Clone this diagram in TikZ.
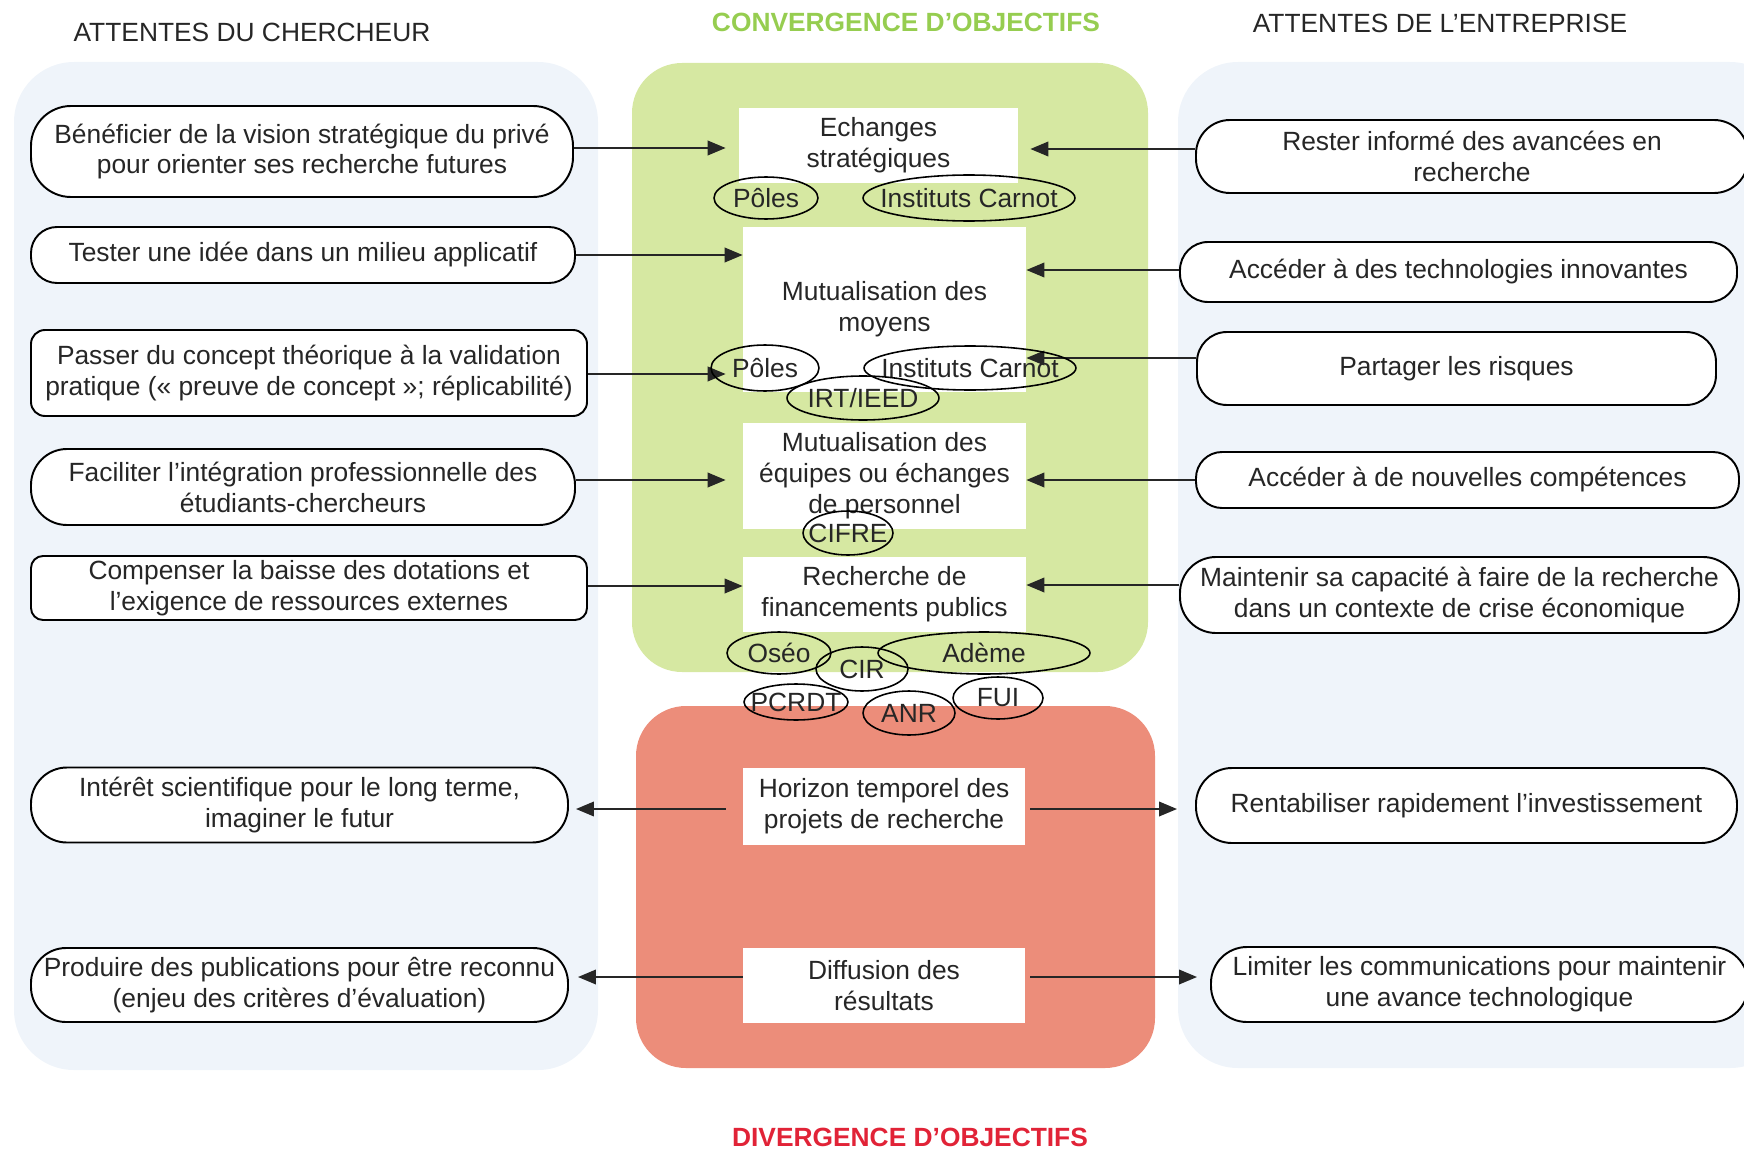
\documentclass[tikz,border=0pt]{standalone}
\usepackage{fontspec}
\setmainfont{Liberation Sans}
\usepackage{tikz}
\usetikzlibrary{positioning,
				arrows.meta,
				shapes.geometric,
				calc}

\definecolor{fondbleu}{RGB}{239,244,250}
\definecolor{fondvert}{RGB}{214,232,162}
\definecolor{fondrouge}{RGB}{236,141,122}
\definecolor{titrevert}{RGB}{150,205,80}
\definecolor{titrerouge}{RGB}{225,35,55}

\begin{document}
\begin{tikzpicture}[x=0.02cm, y=-0.02cm,
		every node/.style={font=\fontsize{15}{17.6}\selectfont, text=black!85},
		attente/.style n args={3}{draw, line width=1.1pt, fill=white, align=center, inner sep=0pt,
			minimum width=#1*0.02cm, minimum height=#2*0.02cm, rounded corners=#3*0.02cm},
		enjeu/.style 2 args={fill=white, align=center, inner sep=0pt,
			minimum width=#1*0.02cm, minimum height=#2*0.02cm},
		dispositif/.style 2 args={ellipse, draw, line width=0.9pt, inner sep=0pt,
			minimum width=#1*0.04cm, minimum height=#2*0.04cm},
		fleche/.style={line width=1.2pt, draw=black!85, -{Triangle[length=0.36cm, width=0.29cm]}}]
		\useasboundingbox (0,0) rectangle (1744,1149);
		\clip (0,0) rectangle (1744,1149);

		% fonds
		\fill[fondbleu, rounded corners=1.2cm] (14,62) rectangle (598,1070);
		\fill[fondbleu, rounded corners=1.2cm] (1178,62) rectangle (1790,1068);
		\fill[fondvert, rounded corners=1cm] (632,63) rectangle (1148,672);
		\fill[fondrouge, rounded corners=1cm] (636,706) rectangle (1155,1068);

		% titres
		\node (tchercheur) at (252,32) {ATTENTES DU CHERCHEUR};
		\node[text=titrevert, font=\fontsize{15}{17.6}\selectfont\bfseries] (tconv) at (906,22) {CONVERGENCE D’OBJECTIFS};
		\node (tentreprise) at (1440,23) {ATTENTES DE L’ENTREPRISE};
		\node[text=titrerouge, font=\fontsize{15}{17.6}\selectfont\bfseries] (tdiv) at (910,1137) {DIVERGENCE D’OBJECTIFS};

		% attentes du chercheur
		\node[attente={542}{91}{40}] (c1) at (302,151.5) {Bénéficier de la vision stratégique du privé\\pour orienter ses recherche futures};
		\node[attente={544}{56}{26}] (c2) at (303,255) {Tester une idée dans un milieu applicatif};
		\node[attente={556}{86}{14}] (c3) at (309,373) {Passer du concept théorique à la validation\\pratique («~preuve de concept~»; réplicabilité)};
		\node[attente={544}{76}{36}] (c4) at (303,487) {Faciliter l’intégration professionnelle des\\étudiants-chercheurs};
		\node[attente={556}{64}{12}] (c5) at (309,588) {Compenser la baisse des dotations et\\l’exigence de ressources externes};
		\node[attente={537}{75}{36}] (c6) at (299.5,805) {Intérêt scientifique pour le long terme,\\imaginer le futur};
		\node[attente={537}{74}{35}] (c7) at (299.5,985) {Produire des publications pour être reconnu\\(enjeu des critères d’évaluation)};

		% attentes de l'entreprise
		\node[attente={552}{73}{34}] (e1) at (1472,156.5) {Rester informé des avancées en\\recherche};
		\node[attente={557}{60}{28}] (e2) at (1458.5,272) {Accéder à des technologies innovantes};
		\node[attente={519}{73}{30}] (e3) at (1456.5,368.5) {Partager les risques};
		\node[attente={543}{56}{26}] (e4) at (1467.5,480) {Accéder à de nouvelles compétences};
		\node[attente={559}{76}{36}] (e5) at (1459.5,595) {Maintenir sa capacité à faire de la recherche\\dans un contexte de crise économique};
		\node[attente={541}{75}{36}] (e6) at (1466.5,805.5) {Rentabiliser rapidement l’investissement};
		\node[attente={537}{75}{36}] (e7) at (1479.5,984.5) {Limiter les communications pour maintenir\\une avance technologique};

		% enjeux communs
		\node[enjeu={279}{75}] (m1) at (878.5,145.5) {Echanges\\stratégiques};
		\node[enjeu={283}{165}] (m2) at (884.5,309.5) {Mutualisation des\\moyens};
		\node[enjeu={283}{106}] (m3) at (884.5,476) {Mutualisation des\\équipes ou échanges\\de personnel};
		\node[enjeu={283}{75}] (m4) at (884.5,594.5) {Recherche de\\financements publics};
		\node[enjeu={282}{77}] (m5) at (884,806.5) {Horizon temporel des\\projets de recherche};
		\node[enjeu={282}{75}] (m6) at (884,985.5) {Diffusion des\\résultats};

		% convergence
		\draw[fleche, shorten >=0.26cm] (c1.east |- 0,148) -- (m1.west |- 0,148);
		\draw[fleche] (c2.east) -- (m2.west |- c2.east);
		\draw[fleche, shorten >=0.34cm] (c3.east |- 0,374) -- (m2.west |- 0,374);
		\draw[fleche, shorten >=0.34cm] (c4.east |- 0,480) -- (m3.west |- 0,480);
		\draw[fleche] (c5.east |- 0,586) -- (m4.west |- 0,586);
		\draw[fleche, shorten >=0.24cm] (e1.west |- 0,149) -- (m1.east |- 0,149);
		\draw[fleche] (e2.west |- 0,270) -- (m2.east |- 0,270);
		\draw[fleche] (e3.west |- 0,358) -- (m2.east |- 0,358);
		\draw[fleche] (e4.west |- 0,480) -- (m3.east |- 0,480);
		\draw[fleche] (e5.west |- 0,585) -- (m4.east |- 0,585);

		% divergence
		\draw[fleche, shorten <=0.34cm, shorten >=0.14cm] (m5.west |- 0,809) -- (c6.east |- 0,809);
		\draw[fleche, shorten <=0.1cm, shorten >=0.36cm] (m5.east |- 0,809) -- (e6.west |- 0,809);
		\draw[fleche, shorten >=0.18cm] (m6.west |- 0,977) -- (c7.east |- 0,977);
		\draw[fleche, shorten <=0.1cm, shorten >=0.26cm] (m6.east |- 0,977) -- (e7.west |- 0,977);

		% dispositifs
		\node[dispositif={52}{21}, label=center:Pôles] (poles1) at (766,198) {};
		\node[dispositif={106}{23}, label=center:Instituts Carnot] (carnot1) at (969,198) {};
		\node[dispositif={54}{23}, label=center:Pôles] (poles2) at (765,368) {};
		\node[dispositif={106}{22}, label=center:Instituts Carnot] (carnot2) at (970,368) {};
		\node[dispositif={76}{22}, label=center:IRT/IEED] (irt) at (863,398) {};
		\node[dispositif={45}{22}, label=center:CIFRE] (cifre) at (848,533) {};
		\node[dispositif={52}{21}, label=center:Oséo] (oseo) at (779,653) {};
		\node[dispositif={46}{22}, label=center:CIR] (cir) at (862,669) {};
		\node[dispositif={106}{21}, label=center:Adème] (ademe) at (984,653) {};
		\node[dispositif={52}{18}, label=center:PCRDT] (pcrdt) at (796,702) {};
		\node[dispositif={46}{22}, label=center:ANR] (anr) at (909,713) {};
		\node[dispositif={45}{21}, label=center:FUI] (fui) at (998,698) {};
	\end{tikzpicture}
\end{document}
